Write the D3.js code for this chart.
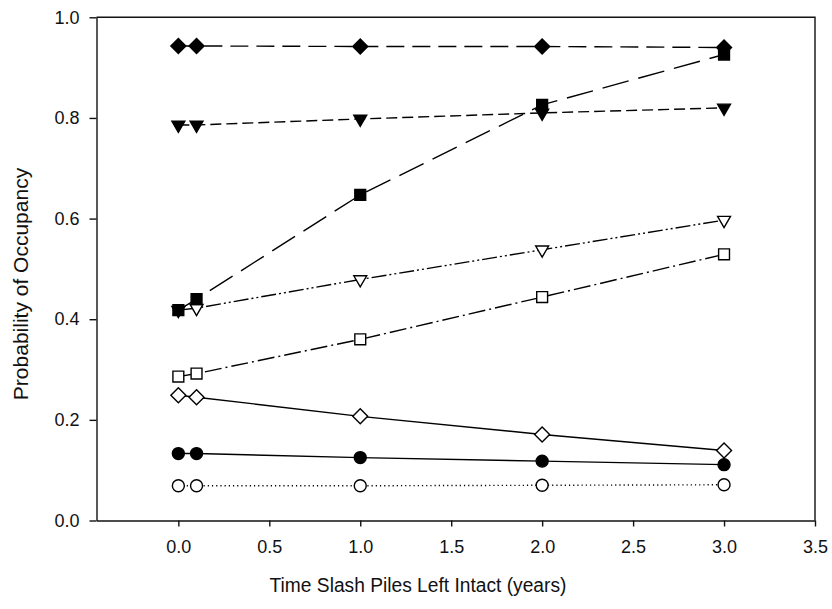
<!DOCTYPE html>
<html>
<head>
<meta charset="utf-8">
<script src="https://cdn.jsdelivr.net/npm/d3@7"></script>
<style>
  html, body { margin: 0; padding: 0; background: #fff; }
  svg { display: block; font-family: "Liberation Sans", Arial, sans-serif; }
</style>
</head>
<body>
<svg id="chart" width="832" height="609"></svg>
<script>
// Years the slash piles were left in place
const xYears = [0, 0.1, 1, 2, 3];

// Occupancy probability for each group, one value per year above
const diamondFilled  = [0.943, 0.943, 0.942, 0.942, 0.940];
const squareFilled   = [0.418, 0.440, 0.647, 0.826, 0.926];
const triangleFilled = [0.786, 0.786, 0.798, 0.810, 0.820];
const triangleOpen   = [0.418, 0.422, 0.479, 0.538, 0.597];
const squareOpen     = [0.286, 0.292, 0.360, 0.444, 0.529];
const diamondOpen    = [0.249, 0.245, 0.207, 0.171, 0.139];
const circleFilled   = [0.133, 0.133, 0.125, 0.118, 0.111];
const circleOpen     = [0.069, 0.069, 0.069, 0.070, 0.071];

// Axis ticks
const xTicks = [0, 0.5, 1, 1.5, 2, 2.5, 3, 3.5];
const yTicks = [0, 0.2, 0.4, 0.6, 0.8, 1.0];

const xTitle = "Time Slash Piles Left Intact (years)";
const yTitle = "Probability of Occupancy";

// Drawing order: later series sit on top
const series = [
  { values: circleOpen,     shape: "circle",   fill: "#fff", dash: "1.2,3" },
  { values: circleFilled,   shape: "circle",   fill: "#000", dash: null },
  { values: diamondOpen,    shape: "diamond",  fill: "#fff", dash: null },
  { values: squareOpen,     shape: "square",   fill: "#fff", dash: "17,4,2,4" },
  { values: triangleOpen,   shape: "triangle", fill: "#fff", dash: "15,3,2,3,2,3" },
  { values: triangleFilled, shape: "triangle", fill: "#000", dash: "11,5" },
  { values: squareFilled,   shape: "square",   fill: "#000", dash: "27,10" },
  { values: diamondFilled,  shape: "diamond",  fill: "#000", dash: "18,8" }
];

const svg = d3.select("#chart");
const plotLeft = 96.5, plotRight = 815, plotTop = 17.3, plotBottom = 520.5;

const x = d3.scaleLinear().domain([-0.45, 3.5]).range([plotLeft, plotRight]);
const y = d3.scaleLinear().domain([0, 1]).range([plotBottom, plotTop]);

const axisColor = "#111";

// Frame (top and right spines)
svg.append("path")
  .attr("d", `M${plotLeft},${plotTop}H${plotRight}V${plotBottom}`)
  .attr("fill", "none").attr("stroke", axisColor).attr("stroke-width", 1.4);

const yAxis = svg.append("g")
  .attr("transform", `translate(${plotLeft},0)`)
  .call(d3.axisLeft(y).tickValues(yTicks).tickFormat(d3.format(".1f"))
    .tickSize(7).tickSizeOuter(0).tickPadding(10));

const xAxis = svg.append("g")
  .attr("transform", `translate(0,${plotBottom})`)
  .call(d3.axisBottom(x).tickValues(xTicks).tickFormat(d3.format(".1f"))
    .tickSize(6).tickSizeOuter(0).tickPadding(14));

[yAxis, xAxis].forEach(g => {
  g.select(".domain").attr("stroke", axisColor).attr("stroke-width", 1.4);
  g.selectAll(".tick line").attr("stroke", axisColor).attr("stroke-width", 1.4);
  g.selectAll(".tick text").attr("fill", "#111")
    .style("font-size", "18px").style("font-family", "'Liberation Sans', Arial, sans-serif");
});

// Axis titles
svg.append("text")
  .attr("transform", "translate(418,592) scale(0.96,1)")
  .attr("text-anchor", "middle")
  .style("font-size", "20px").attr("fill", "#111")
  .text(xTitle);

svg.append("text")
  .attr("transform", `translate(27.5,284) rotate(-90)`)
  .attr("text-anchor", "middle")
  .style("font-size", "21px").attr("fill", "#111")
  .text(yTitle);

const line = d3.line().x(d => x(d[0])).y(d => y(d[1]));

const symbols = {
  circle:   d3.symbol().type(d3.symbolCircle).size(113),
  square:   d3.symbol().type(d3.symbolSquare).size(118),
  diamond:  d3.symbol().type(d3.symbolSquare).size(112),
  triangle: d3.symbol().type(d3.symbolTriangle).size(72)
};
const rotation = { circle: 0, square: 0, diamond: 45, triangle: 180 };

const plot = svg.append("g");

series.forEach(s => {
  const pts = xYears.map((xv, i) => [xv, s.values[i]]);
  const g = plot.append("g");
  g.append("path")
    .attr("d", line(pts))
    .attr("fill", "none")
    .attr("stroke", "#000")
    .attr("stroke-width", 1.4)
    .attr("stroke-dasharray", s.dash);
  g.selectAll("path.mark")
    .data(pts)
    .join("path")
    .attr("class", "mark")
    .attr("d", symbols[s.shape]())
    .attr("transform", d => `translate(${x(d[0])},${y(d[1])}) rotate(${rotation[s.shape]})`)
    .attr("fill", s.fill)
    .attr("stroke", "#000")
    .attr("stroke-width", 1.4);
});
</script>
</body>
</html>
